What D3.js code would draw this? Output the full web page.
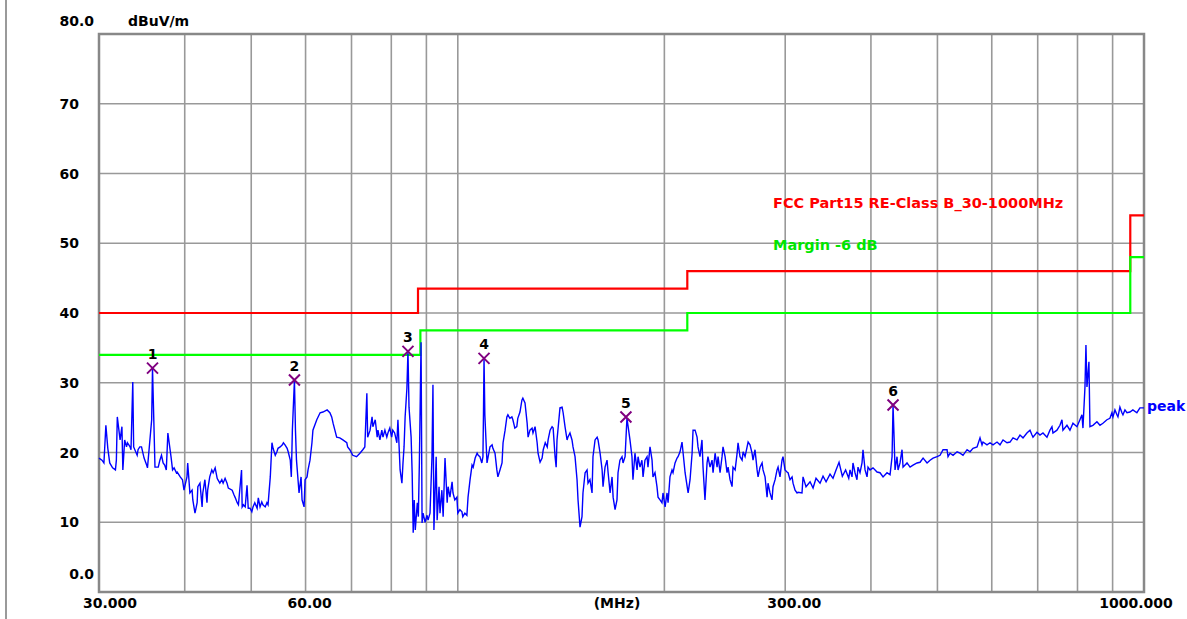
<!DOCTYPE html>
<html>
<head>
<meta charset="utf-8">
<script src="https://cdn.jsdelivr.net/npm/d3@7"></script>
<style>
  body { margin: 0; background: #fff; }
  text { font-family: "DejaVu Sans", sans-serif; font-weight: bold; font-size: 14px; }
  text.legend { font-size: 14.5px; }
</style>
</head>
<body>
<div id="chart"></div>
<script>
// axis values
const yLevels = [0, 10, 20, 30, 40, 50, 60, 70, 80]
const yTickLabels = ['0.0', '10', '20', '30', '40', '50', '60', '70', '80.0']
const gridFreqs = [40, 50, 60, 70, 80, 90, 100, 200, 300, 400, 500, 600, 700, 800, 900]
const xTickFreqs = [30, 60, 300, 1000]
const xTickLabels = ['30.000', '60.00', '300.00', '1000.000']

// limit lines, [MHz, dBuV/m]
const fccLimit = [[30, 40], [87.5, 40], [87.5, 43.5], [216, 43.5], [216, 46], [955, 46], [955, 54], [1000, 54]]
const marginLimit = [[30, 34], [88.2, 34], [88.2, 37.5], [216, 37.5], [216, 40], [955, 40], [955, 48], [1000, 48]]

// marker numbers, frequencies and levels
const markerNums = [1, 2, 3, 4, 5, 6]
const markerFreqs = [35.9, 57.8, 84.6, 109.2, 175.8, 430.8]
const markerLevels = [32.1, 30.4, 34.5, 33.5, 25.1, 26.8]

// peak trace, [MHz, dBuV/m]
const peakTrace = [
  [30.0,19.2],[30.3,18.9],[30.5,18.5],[30.7,23.9],[30.9,20.6],[31.1,18.5],[31.4,17.8],[31.7,17.5],[31.8,18.9],[31.9,25.1],
  [32.2,21.8],[32.4,23.7],[32.5,17.5],[32.7,21.8],[32.9,20.8],[33.0,21.4],[33.3,20.8],[33.4,20.4],[33.6,30.1],[33.7,20.8],
  [34.1,19.6],[34.2,20.4],[34.4,20.8],[34.6,20.8],[34.9,19.2],[35.2,18.2],[35.3,17.8],[35.8,24.7],[35.9,32.1],[36.2,17.9],
  [36.6,17.9],[36.8,18.9],[37.0,19.6],[37.2,18.5],[37.4,18.2],[37.6,17.5],[37.8,22.8],[38.2,19.4],[38.4,17.5],[38.6,17.8],
  [38.9,17.1],[39.0,17.2],[39.4,16.5],[39.7,16.1],[39.9,14.6],[40.3,16.5],[40.4,18.5],[40.7,14.2],[41.0,14.6],[41.1,13.2],
  [41.4,11.3],[41.7,12.8],[41.8,15.1],[42.1,15.6],[42.4,12.2],[42.5,14.2],[42.8,16.1],[43.1,12.8],[43.2,14.6],[43.5,16.5],
  [43.8,17.5],[44.0,17.1],[44.3,17.8],[44.6,16.3],[44.7,16.1],[45.0,15.6],[45.3,16.1],[45.5,15.6],[45.8,16.3],[46.1,15.6],
  [46.3,14.9],[46.9,14.6],[47.2,13.9],[47.4,13.5],[47.7,12.8],[47.9,12.5],[48.4,17.5],[48.5,12.2],[48.7,12.5],[49.0,12.2],
  [49.3,15.3],[49.5,12.0],[49.8,12.0],[50.1,11.5],[50.3,12.2],[50.6,12.8],[51.0,12.0],[51.2,13.5],[51.5,12.2],[51.8,12.9],
  [52.0,12.5],[52.4,12.2],[52.7,12.8],[52.9,12.5],[53.3,16.5],[53.6,21.4],[53.8,20.6],[54.2,19.6],[54.5,20.1],[54.7,20.6],
  [55.1,20.8],[55.5,21.1],[55.7,21.4],[56.0,21.1],[56.4,20.6],[56.6,20.1],[57.0,18.9],[57.2,16.5],[57.4,23.2],[57.8,30.4],
  [58.0,23.2],[58.2,18.9],[58.5,16.1],[58.7,14.2],[59.1,16.5],[59.3,13.2],[59.7,12.2],[59.9,16.1],[60.3,16.5],[60.5,17.5],
  [60.9,18.9],[61.3,21.4],[61.5,23.2],[62.3,24.7],[63.0,25.7],[63.6,25.8],[64.5,26.1],[65.1,25.7],[65.5,25.1],[65.8,24.2],
  [66.2,23.2],[66.6,22.2],[67.3,22.1],[68.0,21.8],[68.9,21.4],[69.1,20.8],[69.6,20.4],[70.3,19.6],[71.2,19.4],[72.0,19.9],
  [72.7,20.4],[73.2,20.8],[73.7,28.5],[73.9,22.2],[74.5,23.2],[75.0,25.1],[75.2,23.7],[75.8,24.7],[76.3,22.2],[76.5,23.2],
  [77.0,21.8],[77.5,23.2],[77.8,22.2],[78.3,23.2],[78.8,22.2],[79.1,22.8],[79.6,23.5],[80.1,22.2],[80.4,23.2],[80.9,22.8],
  [81.5,21.4],[81.8,24.7],[82.4,17.5],[82.9,15.6],[83.2,18.5],[83.5,20.8],[83.8,25.1],[84.3,29.2],[84.6,34.5],[84.9,26.5],
  [85.5,22.2],[85.8,17.1],[86.1,8.5],[86.4,13.2],[86.7,8.9],[87.3,12.8],[87.6,10.8],[87.9,18.5],[88.4,35.8],[88.7,9.9],
  [89.0,11.3],[89.6,10.0],[90.2,11.0],[90.5,10.3],[91.1,11.3],[91.7,19.4],[92.0,29.7],[92.3,8.9],[93.0,19.4],[93.3,10.3],
  [93.9,15.1],[94.2,11.3],[94.8,14.6],[95.2,10.8],[95.8,19.2],[96.5,12.8],[96.8,15.1],[97.4,13.6],[98.1,15.8],[98.4,14.2],
  [99.0,13.2],[99.7,13.6],[100.0,11.3],[100.7,11.8],[101.4,11.5],[101.7,10.8],[102.4,11.3],[103.1,11.0],[103.5,13.6],[104.2,16.1],
  [104.9,18.2],[105.3,17.9],[106.0,19.2],[106.7,19.9],[107.1,19.6],[107.7,19.4],[108.4,18.5],[108.8,19.4],[109.0,25.7],[109.2,33.5],
  [109.5,25.4],[110.3,18.5],[111.4,20.8],[112.2,21.1],[112.5,20.6],[113.3,19.9],[114.0,17.5],[114.4,16.5],[115.2,17.5],[116.0,18.5],
  [116.4,21.4],[117.2,23.2],[117.9,25.1],[118.3,25.4],[119.1,24.9],[119.9,25.1],[120.3,24.7],[121.1,23.5],[121.9,23.7],[122.3,24.9],
  [123.2,25.8],[124.0,27.5],[124.4,27.8],[125.3,27.1],[126.2,24.2],[126.6,22.2],[127.4,23.2],[128.3,23.5],[128.7,22.8],[129.6,23.7],
  [130.5,21.4],[130.9,19.9],[131.8,18.6],[132.7,19.2],[133.2,20.4],[134.1,21.4],[135.0,20.8],[135.4,21.8],[136.3,23.2],[137.2,23.7],
  [137.7,23.5],[138.6,19.4],[139.1,17.9],[139.5,21.8],[140.9,26.4],[141.9,26.5],[142.4,25.7],[143.3,23.7],[144.3,21.8],[144.7,22.2],
  [145.7,22.8],[146.7,21.8],[147.2,20.8],[148.2,19.4],[149.2,16.1],[149.7,13.2],[150.7,9.3],[151.7,10.8],[152.2,14.2],[153.3,17.1],
  [154.3,17.5],[154.8,15.6],[155.8,16.1],[156.9,14.2],[157.4,19.4],[158.5,21.8],[159.6,22.2],[160.1,21.8],[161.2,19.9],[162.3,17.5],
  [162.8,15.1],[163.9,17.9],[165.0,18.9],[165.6,17.1],[166.7,14.2],[167.8,16.5],[168.4,13.6],[169.5,11.8],[170.6,13.2],[171.2,17.1],
  [172.3,18.9],[173.5,19.4],[174.1,18.5],[175.3,19.4],[176.4,24.9],[177.0,23.9],[178.2,21.8],[179.4,19.4],[180.0,16.1],[181.2,19.9],
  [182.5,17.5],[183.1,19.4],[184.3,17.9],[185.5,18.9],[186.2,16.5],[187.4,18.9],[188.7,19.4],[189.3,17.9],[190.6,20.8],[191.9,18.9],
  [192.5,16.5],[193.8,17.1],[195.1,15.1],[195.8,13.6],[197.1,13.2],[198.4,12.8],[199.1,14.2],[200.5,12.2],[201.8,14.2],[202.5,12.8],
  [203.8,16.5],[205.2,17.5],[205.9,17.1],[207.3,18.5],[208.7,19.2],[209.4,19.4],[210.8,20.1],[212.2,21.5],[213.0,19.9],[214.4,17.1],
  [215.9,15.1],[216.6,14.2],[218.0,16.1],[219.5,19.9],[220.2,23.2],[221.7,23.2],[223.2,22.2],[223.9,20.8],[225.4,19.4],[226.9,21.8],
  [227.7,17.9],[229.2,13.2],[230.8,18.5],[231.5,19.4],[233.1,17.9],[234.7,18.9],[235.5,17.1],[237.1,19.9],[238.7,17.9],[239.5,19.4],
  [241.1,17.1],[242.7,19.4],[243.5,20.8],[245.2,19.4],[246.8,17.1],[247.7,17.9],[249.3,16.1],[251.0,15.1],[251.8,17.9],[253.6,17.5],
  [255.3,19.9],[256.1,21.4],[257.8,19.4],[259.6,18.9],[260.5,20.1],[262.2,19.4],[264.0,20.8],[264.9,21.5],[266.6,21.1],[268.4,19.9],
  [269.3,18.9],[271.1,20.4],[273.0,17.5],[273.9,16.5],[275.7,17.9],[277.6,18.5],[278.5,17.5],[280.4,16.5],[282.3,13.6],[283.2,15.6],
  [285.1,14.2],[287.0,13.2],[288.0,15.1],[290.0,16.1],[291.9,17.5],[292.9,17.9],[294.8,16.5],[296.8,18.9],[297.8,19.4],[299.8,17.5],
  [301.8,17.2],[302.9,17.1],[304.9,16.1],[307.0,16.5],[308.0,15.6],[310.1,14.6],[312.2,14.2],[313.2,14.3],[317.4,14.2],[318.5,16.5],
  [321.7,15.1],[326.1,15.8],[329.4,14.9],[332.7,16.3],[337.2,15.6],[340.6,16.6],[344.1,15.8],[348.7,16.9],[352.2,16.3],[355.8,17.5],
  [359.4,18.6],[363.4,16.6],[367.4,17.5],[371.3,16.3],[372.9,17.5],[375.4,16.5],[376.6,18.5],[379.2,17.1],[381.7,16.1],[383.0,17.9],
  [385.6,17.1],[388.2,18.5],[389.5,20.4],[392.2,17.5],[394.8,16.5],[396.1,17.9],[398.8,17.5],[402.8,17.8],[408.3,17.2],[412.4,17.1],
  [416.6,16.5],[422.2,17.1],[426.5,16.8],[429.4,19.4],[430.8,26.8],[432.3,22.2],[433.7,17.5],[436.6,19.4],[438.1,17.5],[441.0,18.5],
  [444.0,20.4],[445.5,17.9],[451.5,18.5],[456.1,17.9],[460.7,18.2],[466.9,18.5],[471.7,18.6],[476.5,19.2],[482.9,18.5],[487.8,18.9],
  [492.7,19.2],[499.4,19.4],[504.4,19.6],[509.5,20.4],[516.4,20.4],[518.1,19.4],[521.6,19.9],[526.9,19.6],[534.1,20.1],[539.4,19.9],
  [544.8,19.6],[552.3,20.4],[557.8,20.1],[563.4,20.6],[571.1,20.8],[576.8,22.1],[580.7,21.1],[582.6,21.5],[590.5,21.1],[596.5,21.4],
  [602.5,21.1],[610.7,21.5],[616.8,21.1],[623.1,21.8],[631.5,21.4],[637.9,21.5],[644.3,22.1],[653.0,21.8],[659.6,22.5],[666.3,22.1],
  [675.1,22.8],[682.1,23.2],[686.7,22.5],[689.0,22.2],[698.3,22.9],[705.4,22.5],[712.5,22.8],[722.1,22.2],[729.4,23.2],[734.3,23.7],
  [736.8,22.8],[746.7,23.2],[754.3,23.9],[759.4,24.7],[761.9,23.2],[772.2,23.9],[780.0,23.2],[787.9,24.2],[798.5,23.7],[806.6,24.7],
  [812.0,25.4],[814.8,23.5],[820.3,29.4],[823.0,35.4],[825.8,29.4],[831.3,33.0],[834.1,23.7],[842.5,23.9],[853.9,24.4],[862.6,23.9],
  [871.3,24.2],[883.0,24.7],[891.9,24.9],[898.0,25.7],[901.0,25.1],[907.1,26.1],[913.2,25.4],[916.3,25.1],[922.4,26.5],[928.6,25.7],
  [931.8,25.4],[938.1,26.1],[944.4,25.7],[953.8,25.8],[963.4,26.1],[976.4,25.7],[986.4,26.4],[1000,26.4]
]

const plot = { left: 99, top: 34, right: 1144, bottom: 592 }

const svg = d3.select('#chart')
  .append('svg')
  .attr('width', 1187)
  .attr('height', 619)

const x = d3.scaleLog().domain([30, 1000]).range([plot.left, plot.right])
const y = d3.scaleLinear().domain([0, 80]).range([plot.bottom, plot.top])

// window edge on the left
svg.append('line')
  .attr('x1', 6).attr('x2', 6)
  .attr('y1', 0).attr('y2', 619)
  .attr('stroke', '#9a9a9a')
  .attr('stroke-width', 2)

// grid
svg.selectAll('line.vgrid')
  .data(gridFreqs)
  .enter()
  .append('line')
  .classed('vgrid', true)
  .attr('x1', d => x(d)).attr('x2', d => x(d))
  .attr('y1', plot.top).attr('y2', plot.bottom)
  .attr('stroke', '#999')
  .attr('stroke-width', 1.6)

svg.selectAll('line.hgrid')
  .data(yLevels.slice(1, -1))
  .enter()
  .append('line')
  .classed('hgrid', true)
  .attr('x1', plot.left).attr('x2', plot.right)
  .attr('y1', d => y(d)).attr('y2', d => y(d))
  .attr('stroke', '#999')
  .attr('stroke-width', 1.6)

svg.append('rect')
  .attr('x', plot.left)
  .attr('y', plot.top)
  .attr('width', plot.right - plot.left)
  .attr('height', plot.bottom - plot.top)
  .attr('fill', 'none')
  .attr('stroke', '#888')
  .attr('stroke-width', 2.5)

// y labels
svg.selectAll('text.ylab')
  .data(yLevels)
  .enter()
  .append('text')
  .classed('ylab', true)
  .attr('text-anchor', 'end')
  .attr('dominant-baseline', 'central')
  .attr('x', (d, i) => (i === 0 || i === yLevels.length - 1) ? plot.left - 5 : plot.left - 20)
  .attr('y', (d, i) => i === 0 ? y(d) - 18 : (i === yLevels.length - 1 ? y(d) - 13 : y(d)))
  .text((d, i) => yTickLabels[i])

svg.append('text')
  .attr('x', 128)
  .attr('y', 21)
  .attr('dominant-baseline', 'central')
  .text('dBuV/m')

// x labels
const xLabelShift = [11, 4, 9, -8]
svg.selectAll('text.xlab')
  .data(xTickFreqs)
  .enter()
  .append('text')
  .classed('xlab', true)
  .attr('text-anchor', 'middle')
  .attr('dominant-baseline', 'central')
  .attr('x', (d, i) => x(d) + xLabelShift[i])
  .attr('y', plot.bottom + 11)
  .text((d, i) => xTickLabels[i])

svg.append('text')
  .attr('text-anchor', 'middle')
  .attr('dominant-baseline', 'central')
  .attr('x', plot.left + 518)
  .attr('y', plot.bottom + 11)
  .text('(MHz)')

// limit lines
const line = d3.line().x(d => x(d[0])).y(d => y(d[1]))

svg.append('path')
  .datum(fccLimit)
  .attr('d', line)
  .attr('fill', 'none')
  .attr('stroke', '#ff0000')
  .attr('stroke-width', 2.2)

svg.append('path')
  .datum(marginLimit)
  .attr('d', line)
  .attr('fill', 'none')
  .attr('stroke', '#00ff00')
  .attr('stroke-width', 2.2)

svg.append('text')
  .classed('legend', true)
  .attr('x', 773).attr('y', 203)
  .attr('dominant-baseline', 'central')
  .attr('fill', '#ff0000')
  .text('FCC Part15 RE-Class B_30-1000MHz')

svg.append('text')
  .classed('legend', true)
  .attr('x', 773).attr('y', 245)
  .attr('dominant-baseline', 'central')
  .attr('fill', '#00e600')
  .text('Margin -6 dB')

// trace
svg.append('path')
  .datum(peakTrace)
  .attr('d', line)
  .attr('fill', 'none')
  .attr('stroke', '#0000ff')
  .attr('stroke-width', 1.4)

const lastPoint = peakTrace[peakTrace.length - 1]
svg.append('text')
  .attr('x', x(lastPoint[0]) + 3)
  .attr('y', y(lastPoint[1]) - 2)
  .attr('dominant-baseline', 'central')
  .attr('fill', '#0000ff')
  .text('peak')

// markers
const gMarkers = svg.selectAll('g.marker')
  .data(markerNums)
  .enter()
  .append('g')
  .classed('marker', true)
  .attr('transform', (d, i) => `translate(${x(markerFreqs[i])}, ${y(markerLevels[i])})`)

gMarkers.append('path')
  .attr('d', 'M-5.5,-5.5L5.5,5.5M-5.5,5.5L5.5,-5.5')
  .attr('stroke', '#800080')
  .attr('stroke-width', 2)

gMarkers.append('text')
  .attr('text-anchor', 'middle')
  .attr('dominant-baseline', 'central')
  .attr('y', -14)
  .text(d => d)
</script>
</body>
</html>
